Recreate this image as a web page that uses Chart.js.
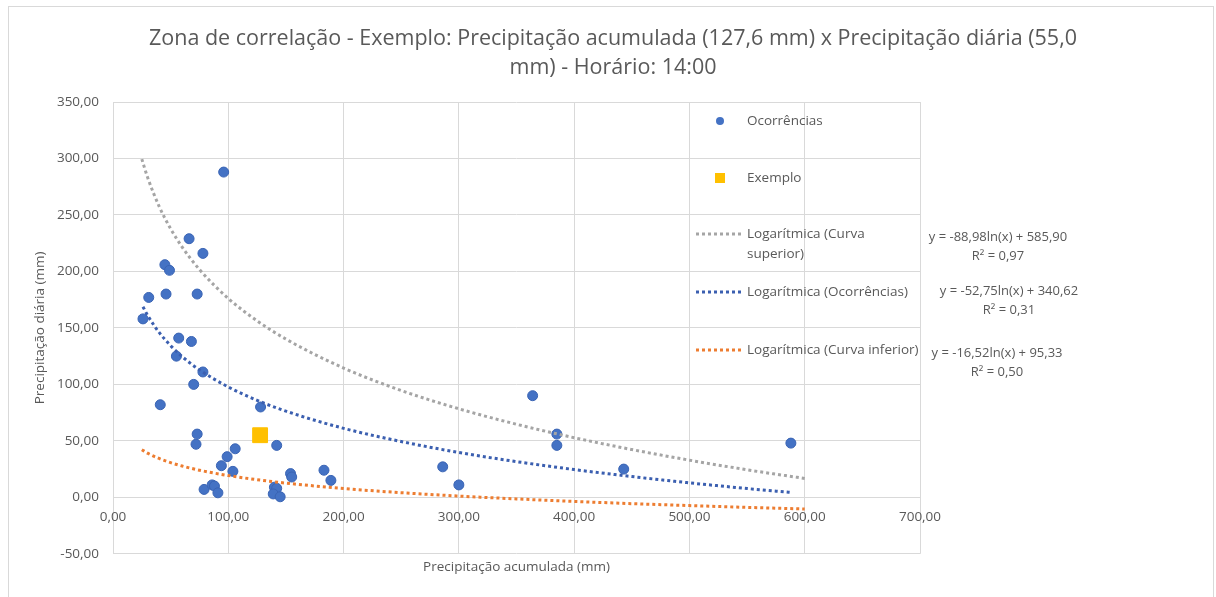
<!DOCTYPE html>
<html>
<head>
<meta charset="utf-8">
<script src="https://cdn.jsdelivr.net/npm/chart.js@4.4.0/dist/chart.umd.min.js"></script>
<style>
  html, body { margin: 0; padding: 0; background: #fff; }
  #wrap { position: relative; width: 1216px; height: 597px; overflow: hidden; }
  #frame { position: absolute; left: 8px; top: 6px; width: 1204px; height: 600px; border: 1px solid #D9D9D9; pointer-events: none; }
</style>
</head>
<body>
<div id="wrap">
  <canvas id="corrChart" width="1216" height="597"></canvas>
  <div id="frame"></div>
</div>
<script>
// Ocorrências (precipitação acumulada x diária)
const ocorrX = [96, 66, 78, 45, 49, 31, 46, 73, 26, 57, 68, 55, 78, 70, 41, 128, 73, 72, 142, 106,
                99, 94, 104, 154, 155, 183, 189, 79, 86, 88, 91, 140, 142, 139, 145, 364, 385, 385, 286, 300, 443, 588];
const ocorrY = [288, 229, 216, 206, 201, 177, 180, 180, 158, 141, 138, 125, 111, 100, 82, 80, 56, 47, 46, 43,
                36, 28, 23, 21, 18, 24, 15, 7, 11, 10, 4, 9, 8, 3, 0.5, 90, 56, 46, 27, 11, 25, 48];

// Exemplo
const exemploX = [127.6];
const exemploY = [55.0];

// Linhas de tendência logarítmicas
const curvaX = [25, 30, 40, 50, 60, 75, 100, 125, 150, 200, 250, 300, 350, 400, 450, 500, 550, 600];
const superiorY = [299.5, 283.3, 257.7, 237.8, 221.6, 201.7, 176.1, 156.3, 140.1, 114.5, 94.6, 78.4, 64.7, 52.8, 42.3, 32.9, 24.4, 16.7];
const inferiorY = [42.2, 39.1, 34.4, 30.7, 27.7, 24.0, 19.3, 15.6, 12.6, 7.8, 4.1, 1.1, -1.4, -3.6, -5.6, -7.3, -8.9, -10.3];
const tendX = [26, 30, 40, 50, 60, 75, 100, 125, 150, 200, 250, 300, 350, 400, 450, 500, 550, 588];
const tendY = [168.8, 161.2, 146.0, 134.3, 124.6, 112.9, 97.7, 85.9, 76.3, 61.1, 49.4, 39.7, 31.6, 24.6, 18.4, 12.8, 7.8, 4.3];

const xTicks = [0, 100, 200, 300, 400, 500, 600, 700];
const yTicks = [-50, 0, 50, 100, 150, 200, 250, 300, 350];

const equations = [
    ['y = -88,98ln(x) + 585,90', 'R² = 0,97'],
    ['y = -52,75ln(x) + 340,62', 'R² = 0,31'],
    ['y = -16,52ln(x) + 95,33', 'R² = 0,50']
];

const textColor = '#595959';
const gridColor = '#D9D9D9';
const blue = '#4472C4';
const gray = '#A5A5A5';
const orange = '#ED7D31';
const gold = '#FFC000';

function toPoints(xs, ys) {
    return xs.map((x, i) => ({ x: x, y: ys[i] }));
}

function fmt(v) {
    return Number(v).toFixed(2).replace('.', ',');
}

function trendDataset(label, xs, ys, color) {
    return {
        label: label,
        data: toPoints(xs, ys),
        showLine: true,
        borderColor: color,
        borderWidth: 3,
        borderDash: [3, 3],
        pointRadius: 0,
        cubicInterpolationMode: 'monotone',
        fill: false,
        order: 1
    };
}

// legend drawn inside the plot + trendline equations on the right
const excelLegend = {
    id: 'excelLegend',
    afterDraw(chart) {
        const ctx = chart.ctx;
        ctx.save();
        ctx.font = '13.5px "Open Sans"';
        ctx.fillStyle = textColor;
        ctx.textAlign = 'left';
        ctx.textBaseline = 'middle';

        // Ocorrências
        ctx.beginPath();
        ctx.arc(720, 121, 4, 0, Math.PI * 2);
        ctx.fillStyle = blue;
        ctx.fill();
        ctx.fillStyle = textColor;
        ctx.fillText('Ocorrências', 747, 121);

        // Exemplo
        ctx.fillStyle = gold;
        ctx.fillRect(715, 173, 10, 10);
        ctx.fillStyle = textColor;
        ctx.fillText('Exemplo', 747, 178);

        const lines = [
            { color: gray, y: 234, text: ['Logarítmica (Curva', 'superior)'] },
            { color: '#3B5FB0', y: 292, text: ['Logarítmica (Ocorrências)'] },
            { color: orange, y: 350, text: ['Logarítmica (Curva inferior)'] }
        ];
        lines.forEach(l => {
            ctx.strokeStyle = l.color;
            ctx.lineWidth = 3;
            ctx.setLineDash([3, 3]);
            ctx.beginPath();
            ctx.moveTo(696, l.y);
            ctx.lineTo(742, l.y);
            ctx.stroke();
            ctx.fillStyle = textColor;
            l.text.forEach((t, i) => ctx.fillText(t, 747, l.y + i * 20));
        });
        ctx.setLineDash([]);

        // equations
        ctx.font = '13px "Open Sans"';
        ctx.textAlign = 'center';
        const eqPos = [[998, 237], [1009, 291], [997, 353]];
        equations.forEach((eq, i) => {
            ctx.fillText(eq[0], eqPos[i][0], eqPos[i][1]);
            ctx.fillText(eq[1], eqPos[i][0], eqPos[i][1] + 19);
        });
        ctx.restore();
    }
};

const ctxCorr = document.getElementById('corrChart').getContext('2d');
const corrChart = new Chart(ctxCorr, {
    type: 'scatter',
    data: {
        datasets: [
            {
                label: 'Exemplo',
                data: toPoints(exemploX, exemploY),
                backgroundColor: gold,
                borderColor: gold,
                pointStyle: 'rect',
                pointRadius: 10.5,
                order: 0
            },
            trendDataset('Logarítmica (Curva superior)', curvaX, superiorY, gray),
            trendDataset('Logarítmica (Ocorrências)', tendX, tendY, '#3B5FB0'),
            trendDataset('Logarítmica (Curva inferior)', curvaX, inferiorY, orange),
            {
                label: 'Ocorrências',
                data: toPoints(ocorrX, ocorrY),
                backgroundColor: blue,
                borderColor: '#3A64B4',
                borderWidth: 1,
                pointRadius: 5,
                order: 2
            }
        ]
    },
    options: {
        responsive: false,
        animation: false,
        layout: { padding: { left: 10, right: 0, top: 0, bottom: 0 } },
        scales: {
            x: {
                type: 'linear',
                min: 0,
                max: 700,
                position: { y: 0 },
                afterBuildTicks: s => { s.ticks = xTicks.map(v => ({ value: v })); },
                afterFit: s => { s.height = 0; },
                ticks: {
                    color: textColor,
                    font: { family: 'Open Sans', size: 13.5 },
                    padding: 12,
                    callback: v => fmt(v)
                },
                grid: { color: gridColor, drawTicks: false },
                border: { color: gridColor }
            },
            x2: {
                type: 'linear',
                axis: 'x',
                min: 0,
                max: 700,
                position: 'bottom',
                ticks: { display: false },
                grid: { display: false, drawTicks: false },
                border: { display: false },
                title: {
                    display: true,
                    text: 'Precipitação acumulada (mm)',
                    color: textColor,
                    font: { family: 'Open Sans', size: 13.5 },
                    padding: { top: 5, bottom: 22 }
                }
            },
            y: {
                type: 'linear',
                min: -50,
                max: 350,
                position: 'left',
                afterBuildTicks: s => { s.ticks = yTicks.map(v => ({ value: v })); },
                afterFit: s => { s.width = 103; },
                ticks: {
                    color: textColor,
                    font: { family: 'Open Sans', size: 13.5 },
                    padding: 14,
                    callback: v => fmt(v)
                },
                grid: { color: gridColor, drawTicks: false },
                border: { display: false },
                title: {
                    display: true,
                    text: 'Precipitação diária (mm)',
                    color: textColor,
                    font: { family: 'Open Sans', size: 13.5 },
                    padding: { top: 22, bottom: 0 }
                }
            },
            y2: {
                type: 'linear',
                axis: 'y',
                min: -50,
                max: 350,
                position: 'right',
                ticks: { display: false },
                grid: { display: false, drawTicks: false },
                border: { display: false },
                afterFit: s => { s.width = 296; }
            }
        },
        plugins: {
            legend: { display: false },
            tooltip: { enabled: false },
            title: {
                display: true,
                text: ['Zona de correlação - Exemplo: Precipitação acumulada (127,6 mm) x Precipitação diária (55,0',
                       'mm) - Horário: 14:00'],
                color: textColor,
                font: { family: 'Open Sans', size: 21.5, weight: 'normal', lineHeight: 1.35 },
                padding: { top: 24, bottom: 20 }
            }
        }
    },
    plugins: [excelLegend]
});
</script>
</body>
</html>
